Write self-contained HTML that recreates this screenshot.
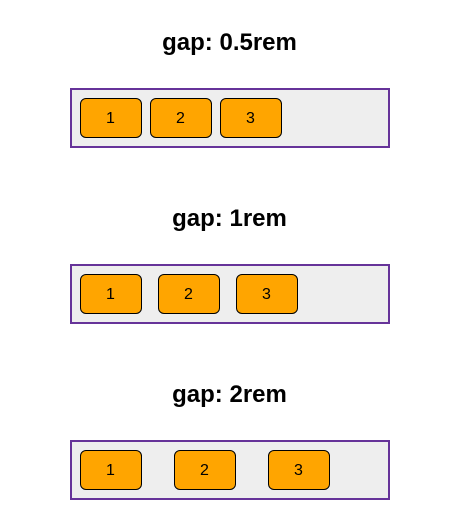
<!DOCTYPE html>
<html lang="en">
<head>
<meta charset="utf-8">
<title>Flexbox gap examples</title>
<style>
  html, body { margin: 0; padding: 0; background: #fff; }
  body { width: 452px; height: 528px; position: relative; overflow: hidden;
         font-family: "Liberation Sans", Arial, sans-serif; color: #000; }
  h2 { position: absolute; left: 0; width: 459px; margin: 0; text-align: center;
       font-size: 24px; font-weight: bold; line-height: 28px; }
  .row { position: absolute; left: 70px; width: 320px; height: 60px; box-sizing: border-box;
         border: 2px solid #663399; background: #eee; padding: 8px; display: flex; }
  .box { width: 62px; height: 40px; box-sizing: border-box; border: 1px solid #000;
         border-radius: 6px; background: orange; display: flex; align-items: center;
         justify-content: center; font-size: 16px; line-height: 18px;
         padding: 1px 1px 0 0; }
</style>
</head>
<body>
  <h2 style="top:29px">gap: 0.5rem</h2>
  <div class="row" style="top:88px;gap:8px">
    <div class="box">1</div>
    <div class="box">2</div>
    <div class="box">3</div>
  </div>

  <h2 style="top:205px">gap: 1rem</h2>
  <div class="row" style="top:264px;gap:16px">
    <div class="box">1</div>
    <div class="box">2</div>
    <div class="box">3</div>
  </div>

  <h2 style="top:381px">gap: 2rem</h2>
  <div class="row" style="top:440px;gap:32px">
    <div class="box">1</div>
    <div class="box">2</div>
    <div class="box">3</div>
  </div>
</body>
</html>
